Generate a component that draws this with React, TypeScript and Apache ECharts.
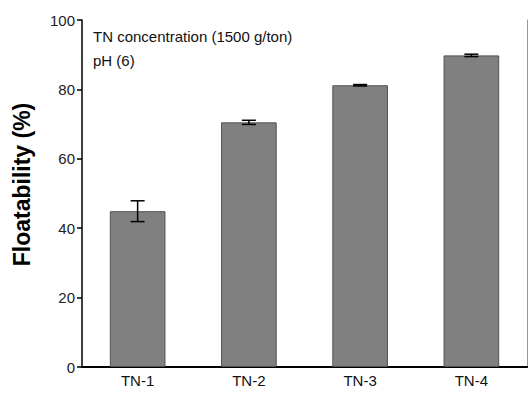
import React, { useEffect, useRef } from "react";
import * as echarts from "echarts";

const categories = ["TN-1", "TN-2", "TN-3", "TN-4"];
const floatability = [44.9, 70.5, 81.2, 89.8];
const errors = [3.0, 0.6, 0.2, 0.35];
const annotations = ["TN concentration (1500 g/ton)", "pH (6)"];

export default function App() {
  const ref = useRef<HTMLDivElement>(null);
  useEffect(() => {
    if (!ref.current) return;
    const chart = echarts.init(ref.current, undefined, { renderer: "svg" });
    const font = "'Liberation Sans', Arial, sans-serif";
    chart.setOption({
      animation: false,
      textStyle: { fontFamily: font },
      grid: { left: 82, right: 1, top: 20, bottom: 27, containLabel: false, outerBoundsMode: "none" },
      xAxis: [
        {
          type: "category",
          data: categories,
          boundaryGap: true,
          axisLine: { lineStyle: { color: "#000", width: 1.5 } },
          axisTick: { alignWithLabel: true, length: 5, lineStyle: { color: "#000", width: 1.5 } },
          axisLabel: { color: "#111", fontSize: 15, margin: 6, fontFamily: font },
        },
        {
          type: "category",
          data: categories,
          position: "top",
          axisLine: { lineStyle: { color: "#000", width: 2 } },
          axisTick: { show: false },
          axisLabel: { show: false },
        },
      ],
      yAxis: [
        {
          type: "value",
          min: 0,
          max: 100,
          interval: 20,
          name: "Floatability (%)",
          nameLocation: "middle",
          nameGap: 49,
          nameTextStyle: { fontSize: 23, fontWeight: "bold", color: "#000", fontFamily: font, padding: [0, 0, 0, 18] },
          splitLine: { show: false },
          axisLine: { show: true, lineStyle: { color: "#000", width: 1.5 } },
          axisTick: { show: true, length: 5, lineStyle: { color: "#000", width: 1.5 } },
          axisLabel: { color: "#222", fontSize: 15, margin: 7, fontFamily: font },
        },
        {
          type: "value",
          min: 0,
          max: 100,
          interval: 20,
          position: "right",
          splitLine: { show: false },
          axisLine: { show: true, lineStyle: { color: "#999", width: 1 } },
          axisTick: { show: false },
          axisLabel: { show: false },
        },
      ],
      series: [
        {
          type: "bar",
          data: floatability,
          barWidth: "50%",
          itemStyle: { color: "#808080", borderColor: "#505050", borderWidth: 1 },
        },
        {
          type: "custom",
          data: floatability.map((v, i) => [i, v - errors[i], v + errors[i]]),
          z: 10,
          renderItem: (params: any, api: any) => {
            const x = api.value(0);
            const lo = api.coord([x, api.value(1)]);
            const hi = api.coord([x, api.value(2)]);
            const hw = 7;
            const style = { stroke: "#000", lineWidth: 1.5 };
            return {
              type: "group",
              children: [
                { type: "line", shape: { x1: lo[0], y1: lo[1], x2: hi[0], y2: hi[1] }, style },
                { type: "line", shape: { x1: lo[0] - hw, y1: lo[1], x2: lo[0] + hw, y2: lo[1] }, style },
                { type: "line", shape: { x1: hi[0] - hw, y1: hi[1], x2: hi[0] + hw, y2: hi[1] }, style },
              ],
            };
          },
        },
      ],
      graphic: annotations.map((t, i) => ({
        type: "text",
        left: 93,
        top: 29 + i * 24,
        style: { text: t, fontSize: 15, fill: "#111", fontFamily: font },
      })),
    });
    return () => chart.dispose();
  }, []);
  return <div ref={ref} style={{ width: 528, height: 394, position: "absolute", left: 0, top: 0 }} />;
}
